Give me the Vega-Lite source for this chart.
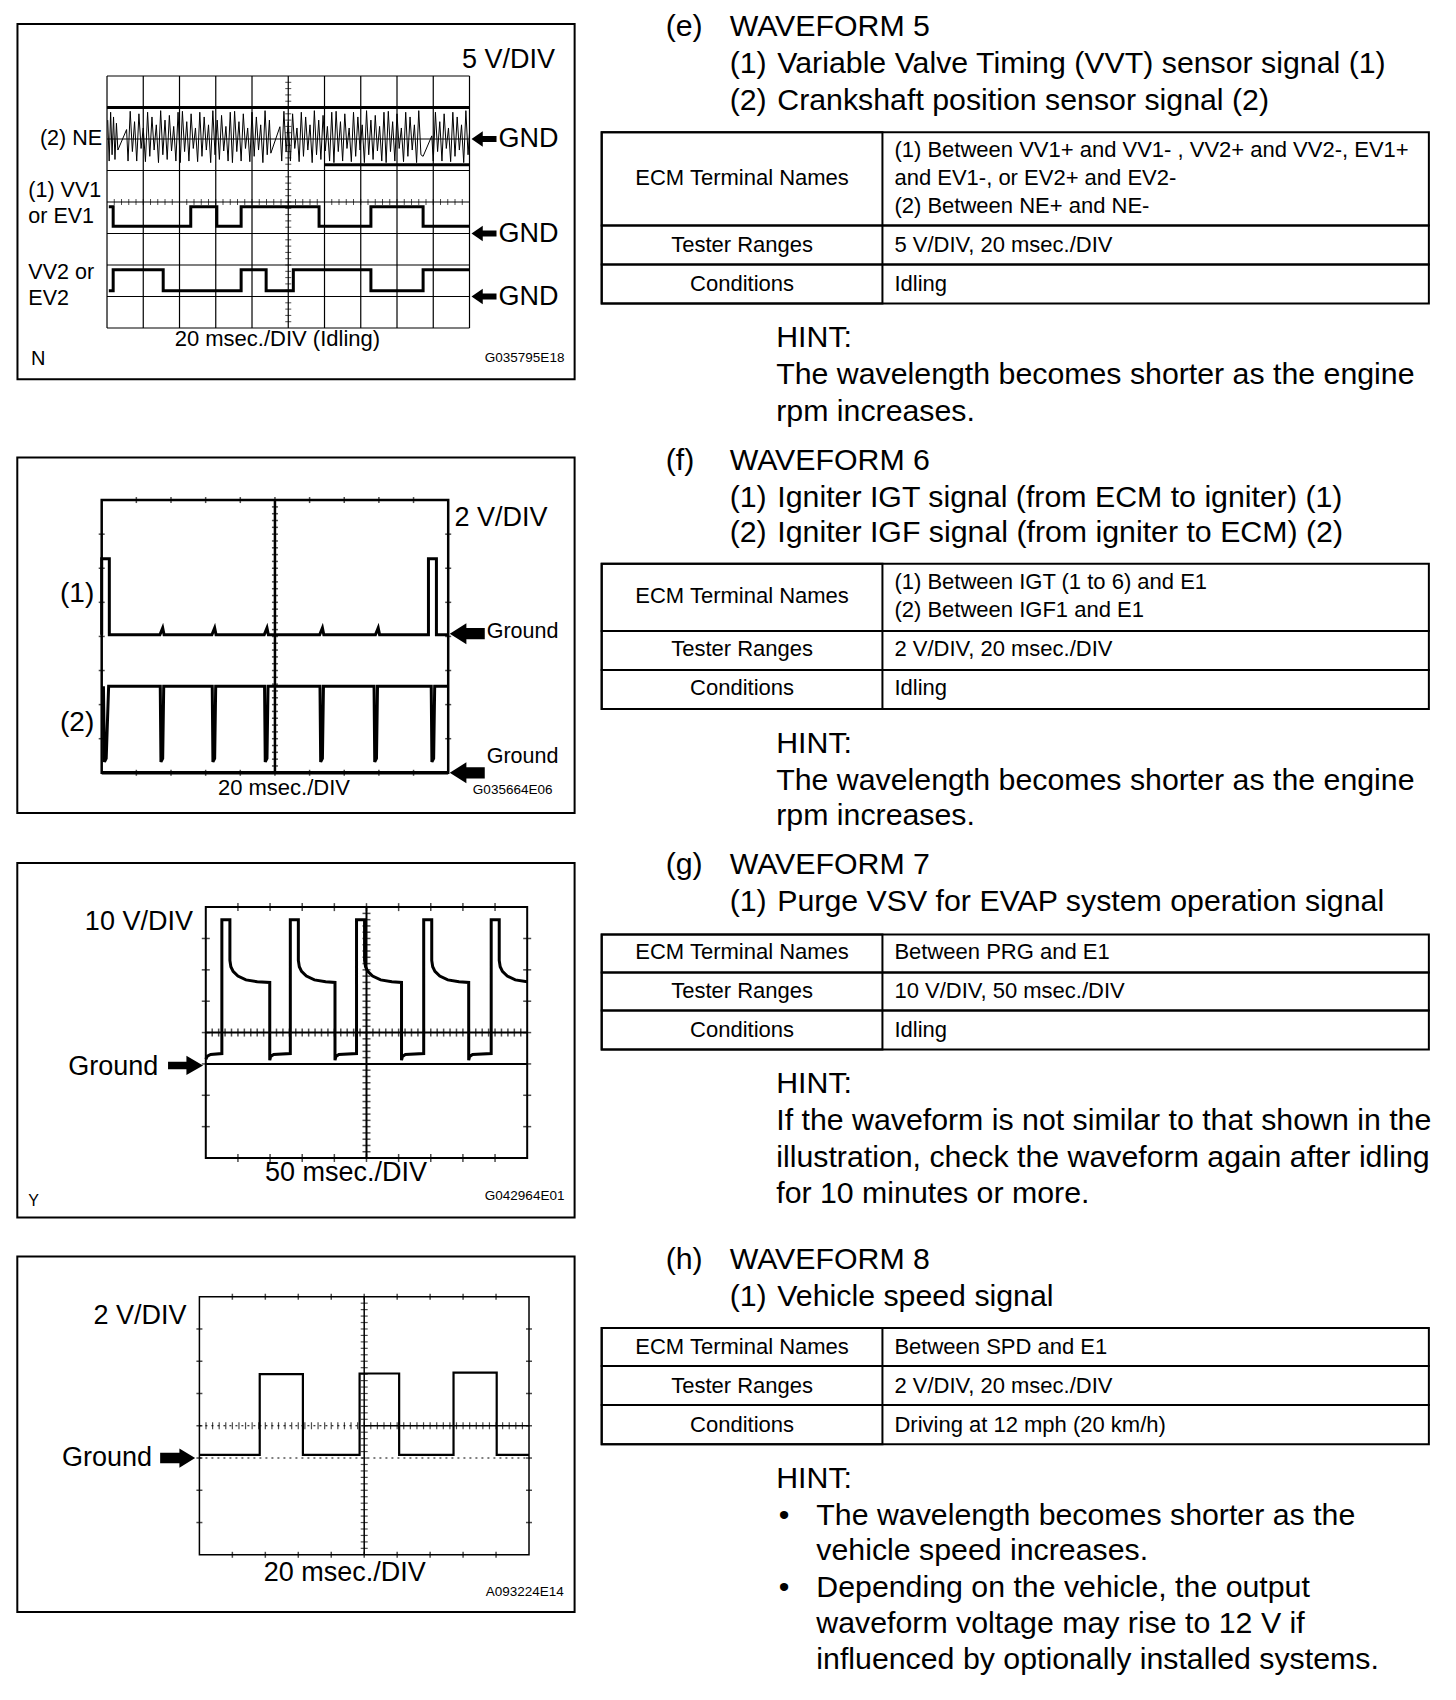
{
"$schema":"https://vega.github.io/schema/vega-lite/v6.json",
"width":1456,"height":1700,
"autosize":{"type":"fit","contains":"padding"},
"padding":0,
"background":"white",
"config":{"view":{"stroke":null},"font":"Liberation Sans","mark":{"color":"black"},"text":{"font":"Liberation Sans","color":"black"}},
"datasets":{
"hticks":[{"t":0.2,"v":4},{"t":0.4,"v":4},{"t":0.6,"v":4},{"t":0.8,"v":4},{"t":1,"v":4},{"t":1.2,"v":4},{"t":1.4,"v":4},{"t":1.6,"v":4},{"t":1.8,"v":4},{"t":2,"v":4},{"t":2.2,"v":4},{"t":2.4,"v":4},{"t":2.6,"v":4},{"t":2.8,"v":4},{"t":3,"v":4},{"t":3.2,"v":4},{"t":3.4,"v":4},{"t":3.6,"v":4},{"t":3.8,"v":4},{"t":4,"v":4},{"t":4.2,"v":4},{"t":4.4,"v":4},{"t":4.6,"v":4},{"t":4.8,"v":4},{"t":5,"v":4},{"t":5.2,"v":4},{"t":5.4,"v":4},{"t":5.6,"v":4},{"t":5.8,"v":4},{"t":6,"v":4},{"t":6.2,"v":4},{"t":6.4,"v":4},{"t":6.6,"v":4},{"t":6.8,"v":4},{"t":7,"v":4},{"t":7.2,"v":4},{"t":7.4,"v":4},{"t":7.6,"v":4},{"t":7.8,"v":4},{"t":8,"v":4},{"t":8.2,"v":4},{"t":8.4,"v":4},{"t":8.6,"v":4},{"t":8.8,"v":4},{"t":9,"v":4},{"t":9.2,"v":4},{"t":9.4,"v":4},{"t":9.6,"v":4},{"t":9.8,"v":4}],
"vticks":[{"t":5,"v":0.2},{"t":5,"v":0.4},{"t":5,"v":0.6},{"t":5,"v":0.8},{"t":5,"v":1},{"t":5,"v":1.2},{"t":5,"v":1.4},{"t":5,"v":1.6},{"t":5,"v":1.8},{"t":5,"v":2},{"t":5,"v":2.2},{"t":5,"v":2.4},{"t":5,"v":2.6},{"t":5,"v":2.8},{"t":5,"v":3},{"t":5,"v":3.2},{"t":5,"v":3.4},{"t":5,"v":3.6},{"t":5,"v":3.8},{"t":5,"v":4},{"t":5,"v":4.2},{"t":5,"v":4.4},{"t":5,"v":4.6},{"t":5,"v":4.8},{"t":5,"v":5},{"t":5,"v":5.2},{"t":5,"v":5.4},{"t":5,"v":5.6},{"t":5,"v":5.8},{"t":5,"v":6},{"t":5,"v":6.2},{"t":5,"v":6.4},{"t":5,"v":6.6},{"t":5,"v":6.8},{"t":5,"v":7},{"t":5,"v":7.2},{"t":5,"v":7.4},{"t":5,"v":7.6},{"t":5,"v":7.8}],
"edgeH":[{"t":1,"v":0},{"t":2,"v":0},{"t":3,"v":0},{"t":4,"v":0},{"t":5,"v":0},{"t":6,"v":0},{"t":7,"v":0},{"t":8,"v":0},{"t":9,"v":0},{"t":1,"v":8},{"t":2,"v":8},{"t":3,"v":8},{"t":4,"v":8},{"t":5,"v":8},{"t":6,"v":8},{"t":7,"v":8},{"t":8,"v":8},{"t":9,"v":8}],
"edgeV":[{"t":0,"v":1},{"t":0,"v":2},{"t":0,"v":3},{"t":0,"v":4},{"t":0,"v":5},{"t":0,"v":6},{"t":0,"v":7},{"t":10,"v":1},{"t":10,"v":2},{"t":10,"v":3},{"t":10,"v":4},{"t":10,"v":5},{"t":10,"v":6},{"t":10,"v":7}],
"gridbox":[{"t":0,"v":0,"t2":10,"v2":8}],
"p1frame":[{"t":-2.47,"v":-1.63,"t2":12.9,"v2":9.65}],
"p1grid":[{"t":0,"v":0,"t2":0,"v2":8},{"t":1,"v":0,"t2":1,"v2":8},{"t":2,"v":0,"t2":2,"v2":8},{"t":3,"v":0,"t2":3,"v2":8},{"t":4,"v":0,"t2":4,"v2":8},{"t":5,"v":0,"t2":5,"v2":8},{"t":6,"v":0,"t2":6,"v2":8},{"t":7,"v":0,"t2":7,"v2":8},{"t":8,"v":0,"t2":8,"v2":8},{"t":9,"v":0,"t2":9,"v2":8},{"t":10,"v":0,"t2":10,"v2":8},{"t":0,"v":0,"t2":10,"v2":0},{"t":0,"v":1,"t2":10,"v2":1},{"t":0,"v":2,"t2":10,"v2":2},{"t":0,"v":3,"t2":10,"v2":3},{"t":0,"v":4,"t2":10,"v2":4},{"t":0,"v":5,"t2":10,"v2":5},{"t":0,"v":6,"t2":10,"v2":6},{"t":0,"v":7,"t2":10,"v2":7},{"t":0,"v":8,"t2":10,"v2":8}],
"p1thick":[{"t":0,"v":7,"t2":10,"v2":7},{"t":6,"v":5.18,"t2":10,"v2":5.18}],
"p1ne":[{"t":0.02,"v":6.6},{"t":0.06,"v":5.3},{"t":0.1,"v":6.85},{"t":0.14,"v":5.5},{"t":0.18,"v":6.7},{"t":0.22,"v":5.35},{"t":0.26,"v":6.5},{"t":0.3,"v":5.65},{"t":0.54,"v":6.3},
{"t":0.58,"v":5.3},{"t":0.64,"v":6.88},{"t":0.7,"v":5.6},{"t":0.76,"v":6.55},{"t":0.82,"v":5.3},{"t":0.88,"v":6.8},{"t":0.94,"v":5.7},{"t":1.0,"v":6.35},{"t":1.06,"v":5.28},{"t":1.12,"v":6.85},{"t":1.18,"v":5.45},{"t":1.24,"v":6.7},{"t":1.3,"v":5.65},{"t":1.36,"v":6.45},{"t":1.42,"v":5.25},{"t":1.48,"v":6.9},{"t":1.54,"v":5.5},{"t":1.6,"v":6.6},{"t":1.66,"v":5.35},{"t":1.72,"v":6.75},{"t":1.78,"v":5.62},{"t":1.84,"v":6.4},{"t":1.9,"v":5.3},{"t":1.96,"v":6.85},{"t":2.02,"v":5.25},{"t":2.08,"v":6.88},{"t":2.14,"v":5.6},{"t":2.2,"v":6.55},{"t":2.26,"v":5.3},{"t":2.32,"v":6.8},{"t":2.38,"v":5.7},{"t":2.44,"v":6.35},{"t":2.5,"v":5.28},{"t":2.56,"v":6.85},{"t":2.62,"v":5.45},{"t":2.68,"v":6.7},{"t":2.74,"v":5.65},{"t":2.8,"v":6.45},{"t":2.86,"v":5.25},{"t":2.92,"v":6.9},{"t":2.98,"v":5.5},{"t":3.04,"v":6.6},{"t":3.1,"v":5.35},{"t":3.16,"v":6.75},{"t":3.22,"v":5.62},{"t":3.28,"v":6.4},{"t":3.34,"v":5.3},{"t":3.4,"v":6.85},{"t":3.46,"v":5.25},{"t":3.52,"v":6.88},{"t":3.58,"v":5.6},{"t":3.64,"v":6.55},{"t":3.7,"v":5.3},{"t":3.76,"v":6.8},{"t":3.82,"v":5.7},{"t":3.88,"v":6.35},{"t":3.94,"v":5.28},{"t":4.0,"v":6.85},{"t":4.06,"v":5.45},{"t":4.12,"v":6.7},{"t":4.18,"v":5.65},{"t":4.24,"v":6.45},{"t":4.3,"v":5.25},{"t":4.36,"v":6.9},{"t":4.42,"v":5.5},{"t":4.48,"v":6.6},{"t":4.52,"v":5.55},{"t":4.77,"v":6.39},
{"t":4.82,"v":5.3},{"t":4.88,"v":6.88},{"t":4.94,"v":5.6},{"t":5.0,"v":6.55},{"t":5.06,"v":5.3},{"t":5.12,"v":6.8},{"t":5.18,"v":5.7},{"t":5.24,"v":6.35},{"t":5.3,"v":5.28},{"t":5.36,"v":6.85},{"t":5.42,"v":5.45},{"t":5.48,"v":6.7},{"t":5.54,"v":5.65},{"t":5.6,"v":6.45},{"t":5.66,"v":5.25},{"t":5.72,"v":6.9},{"t":5.78,"v":5.5},{"t":5.84,"v":6.6},{"t":5.9,"v":5.35},{"t":5.96,"v":6.75},{"t":6.02,"v":5.62},{"t":6.08,"v":6.4},{"t":6.14,"v":5.3},{"t":6.2,"v":6.85},{"t":6.26,"v":5.25},{"t":6.32,"v":6.88},{"t":6.38,"v":5.6},{"t":6.44,"v":6.55},{"t":6.5,"v":5.3},{"t":6.56,"v":6.8},{"t":6.62,"v":5.7},{"t":6.68,"v":6.35},{"t":6.74,"v":5.28},{"t":6.8,"v":6.85},{"t":6.86,"v":5.45},{"t":6.92,"v":6.7},{"t":6.98,"v":5.65},{"t":7.04,"v":6.45},{"t":7.1,"v":5.25},{"t":7.16,"v":6.9},{"t":7.22,"v":5.5},{"t":7.28,"v":6.6},{"t":7.34,"v":5.35},{"t":7.4,"v":6.75},{"t":7.46,"v":5.62},{"t":7.52,"v":6.4},{"t":7.58,"v":5.3},{"t":7.64,"v":6.85},{"t":7.7,"v":5.25},{"t":7.76,"v":6.88},{"t":7.82,"v":5.6},{"t":7.88,"v":6.55},{"t":7.94,"v":5.3},{"t":8.0,"v":6.8},{"t":8.06,"v":5.7},{"t":8.12,"v":6.35},{"t":8.18,"v":5.28},{"t":8.24,"v":6.85},{"t":8.3,"v":5.45},{"t":8.36,"v":6.7},{"t":8.42,"v":5.65},{"t":8.48,"v":6.45},{"t":8.54,"v":5.25},{"t":8.6,"v":6.9},{"t":8.66,"v":5.5},{"t":8.72,"v":5.45},{"t":8.96,"v":6.1},
{"t":9.0,"v":5.3},{"t":9.06,"v":6.85},{"t":9.12,"v":5.6},{"t":9.18,"v":6.55},{"t":9.24,"v":5.3},{"t":9.3,"v":6.8},{"t":9.36,"v":5.7},{"t":9.42,"v":6.35},{"t":9.48,"v":5.28},{"t":9.54,"v":6.85},{"t":9.6,"v":5.45},{"t":9.66,"v":6.7},{"t":9.72,"v":5.65},{"t":9.78,"v":6.45},{"t":9.84,"v":5.25},{"t":9.9,"v":6.9},{"t":9.96,"v":5.5},{"t":10,"v":6.2}],
"p1vv":[{"sig":"VV1","t":0.05,"v":3.85},{"sig":"VV1","t":0.17,"v":3.85},{"sig":"VV1","t":0.17,"v":3.23},{"sig":"VV1","t":2.31,"v":3.23},{"sig":"VV1","t":2.31,"v":3.85},{"sig":"VV1","t":3.03,"v":3.85},{"sig":"VV1","t":3.03,"v":3.23},{"sig":"VV1","t":3.7,"v":3.23},{"sig":"VV1","t":3.7,"v":3.85},{"sig":"VV1","t":5.85,"v":3.85},{"sig":"VV1","t":5.85,"v":3.23},{"sig":"VV1","t":7.28,"v":3.23},{"sig":"VV1","t":7.28,"v":3.85},{"sig":"VV1","t":8.72,"v":3.85},{"sig":"VV1","t":8.72,"v":3.23},{"sig":"VV1","t":10,"v":3.23},
{"sig":"VV2","t":0.05,"v":1.18},{"sig":"VV2","t":0.17,"v":1.18},{"sig":"VV2","t":0.17,"v":1.85},{"sig":"VV2","t":1.55,"v":1.85},{"sig":"VV2","t":1.55,"v":1.18},{"sig":"VV2","t":3.7,"v":1.18},{"sig":"VV2","t":3.7,"v":1.85},{"sig":"VV2","t":4.39,"v":1.85},{"sig":"VV2","t":4.39,"v":1.18},{"sig":"VV2","t":5.14,"v":1.18},{"sig":"VV2","t":5.14,"v":1.85},{"sig":"VV2","t":7.28,"v":1.85},{"sig":"VV2","t":7.28,"v":1.18},{"sig":"VV2","t":8.72,"v":1.18},{"sig":"VV2","t":8.72,"v":1.85},{"sig":"VV2","t":10,"v":1.85}],
"p1arrow":[{"t":10.4,"v":6},{"t":10.4,"v":3},{"t":10.4,"v":1}],
"p1text":[{"role":"scale","t":12.36,"v":8.52,"txt":"5 V/DIV"},{"role":"gnd","t":10.8,"v":6,"txt":"GND"},{"role":"gnd","t":10.8,"v":3,"txt":"GND"},{"role":"gnd","t":10.8,"v":1,"txt":"GND"},{"role":"sig","t":-1.85,"v":6,"txt":"(2) NE"},{"role":"sig","t":-2.17,"v":4.36,"txt":"(1) VV1"},{"role":"sig","t":-2.17,"v":3.53,"txt":"or EV1"},{"role":"sig","t":-2.17,"v":1.74,"txt":"VV2 or"},{"role":"sig","t":-2.17,"v":0.91,"txt":"EV2"},{"role":"time","t":4.7,"v":-0.36,"txt":"20 msec./DIV (Idling)"},{"role":"id","t":11.52,"v":-0.95,"txt":"G035795E18"},{"role":"corner","t":-1.9,"v":-0.98,"txt":"N"}],
"p2frame":[{"t":-2.436,"v":-1.182,"t2":13.648,"v2":9.249}],
"p2lines":[{"t":5,"v":0,"t2":5,"v2":8}],
"p2base":[{"t":0,"v":0,"t2":10,"v2":0}],
"p2sig":[{"sig":"IGT","t":0,"v":4.05},{"sig":"IGT","t":0,"v":6.28},{"sig":"IGT","t":0.22,"v":6.28},{"sig":"IGT","t":0.22,"v":4.05},{"sig":"IGT","t":1.68,"v":4.05},{"sig":"IGT","t":1.76,"v":4.25},{"sig":"IGT","t":1.8,"v":4.05},{"sig":"IGT","t":3.18,"v":4.05},{"sig":"IGT","t":3.26,"v":4.25},{"sig":"IGT","t":3.3,"v":4.05},{"sig":"IGT","t":4.69,"v":4.05},{"sig":"IGT","t":4.77,"v":4.25},{"sig":"IGT","t":4.81,"v":4.05},{"sig":"IGT","t":6.29,"v":4.05},{"sig":"IGT","t":6.37,"v":4.25},{"sig":"IGT","t":6.41,"v":4.05},{"sig":"IGT","t":7.9,"v":4.05},{"sig":"IGT","t":7.98,"v":4.25},{"sig":"IGT","t":8.02,"v":4.05},{"sig":"IGT","t":9.43,"v":4.05},{"sig":"IGT","t":9.43,"v":6.28},{"sig":"IGT","t":9.66,"v":6.28},{"sig":"IGT","t":9.66,"v":4.05},{"sig":"IGT","t":10,"v":4.05},
{"sig":"IGF","t":0.05,"v":2.54},{"sig":"IGF","t":0.08,"v":0.32},{"sig":"IGF","t":0.13,"v":0.42},{"sig":"IGF","t":0.2,"v":2.54},{"sig":"IGF","t":1.69,"v":2.54},{"sig":"IGF","t":1.71,"v":0.32},{"sig":"IGF","t":1.76,"v":0.42},{"sig":"IGF","t":1.79,"v":2.54},{"sig":"IGF","t":3.19,"v":2.54},{"sig":"IGF","t":3.21,"v":0.32},{"sig":"IGF","t":3.26,"v":0.42},{"sig":"IGF","t":3.29,"v":2.54},{"sig":"IGF","t":4.7,"v":2.54},{"sig":"IGF","t":4.72,"v":0.32},{"sig":"IGF","t":4.77,"v":0.42},{"sig":"IGF","t":4.8,"v":2.54},{"sig":"IGF","t":6.3,"v":2.54},{"sig":"IGF","t":6.32,"v":0.32},{"sig":"IGF","t":6.37,"v":0.42},{"sig":"IGF","t":6.4,"v":2.54},{"sig":"IGF","t":7.86,"v":2.54},{"sig":"IGF","t":7.88,"v":0.32},{"sig":"IGF","t":7.93,"v":0.42},{"sig":"IGF","t":7.96,"v":2.54},{"sig":"IGF","t":9.51,"v":2.54},{"sig":"IGF","t":9.53,"v":0.32},{"sig":"IGF","t":9.58,"v":0.42},{"sig":"IGF","t":9.61,"v":2.54},{"sig":"IGF","t":10,"v":2.54}],
"p2arrow":[{"t":10.55,"v":4.08},{"t":10.55,"v":0}],
"p2text":[{"role":"scale","t":10.18,"v":7.47,"txt":"2 V/DIV"},{"role":"sig","t":-0.71,"v":5.24,"txt":"(1)"},{"role":"sig","t":-0.71,"v":1.46,"txt":"(2)"},{"role":"gnd","t":11.11,"v":4.13,"txt":"Ground"},{"role":"gnd","t":11.11,"v":0.47,"txt":"Ground"},{"role":"time","t":5.26,"v":-0.45,"txt":"20 msec./DIV"},{"role":"id","t":11.86,"v":-0.5,"txt":"G035664E06"}],
"p3frame":[{"t":-5.865,"v":-1.897,"t2":11.475,"v2":9.407}],
"p3lines":[{"t":0,"v":3,"t2":10,"v2":3},{"t":5,"v":0,"t2":5,"v2":8},{"t":0,"v":4,"t2":10,"v2":4}],
"p3sig":[{"t":0,"v":3.15},{"t":0.05,"v":3.25},{"t":0.15,"v":3.3},
{"t":0.5,"v":3.33},{"t":0.5,"v":7.6},{"t":0.75,"v":7.6},{"t":0.75,"v":6.3},{"t":0.78,"v":6.1},{"t":0.85,"v":5.95},{"t":1.0,"v":5.8},{"t":1.25,"v":5.68},{"t":1.6,"v":5.62},{"t":1.99,"v":5.6},{"t":1.99,"v":3.12},{"t":2.02,"v":3.24},{"t":2.11,"v":3.3},
{"t":2.63,"v":3.33},{"t":2.63,"v":7.6},{"t":2.88,"v":7.6},{"t":2.88,"v":6.3},{"t":2.91,"v":6.1},{"t":2.98,"v":5.95},{"t":3.13,"v":5.8},{"t":3.38,"v":5.68},{"t":3.73,"v":5.62},{"t":4.02,"v":5.6},{"t":4.02,"v":3.12},{"t":4.05,"v":3.24},{"t":4.14,"v":3.3},
{"t":4.69,"v":3.33},{"t":4.69,"v":7.6},{"t":4.94,"v":7.6},{"t":4.94,"v":6.3},{"t":4.97,"v":6.1},{"t":5.04,"v":5.95},{"t":5.19,"v":5.8},{"t":5.44,"v":5.68},{"t":5.79,"v":5.62},{"t":6.09,"v":5.6},{"t":6.09,"v":3.12},{"t":6.12,"v":3.24},{"t":6.21,"v":3.3},
{"t":6.78,"v":3.33},{"t":6.78,"v":7.6},{"t":7.03,"v":7.6},{"t":7.03,"v":6.3},{"t":7.06,"v":6.1},{"t":7.13,"v":5.95},{"t":7.28,"v":5.8},{"t":7.53,"v":5.68},{"t":7.88,"v":5.62},{"t":8.18,"v":5.6},{"t":8.18,"v":3.12},{"t":8.21,"v":3.24},{"t":8.3,"v":3.3},
{"t":8.88,"v":3.33},{"t":8.88,"v":7.6},{"t":9.13,"v":7.6},{"t":9.13,"v":6.3},{"t":9.16,"v":6.1},{"t":9.23,"v":5.95},{"t":9.38,"v":5.8},{"t":9.63,"v":5.68},{"t":10,"v":5.62}],
"p3arrow":[{"t":-0.63,"v":2.95}],
"p3text":[{"role":"scale","t":-0.4,"v":7.54,"txt":"10 V/DIV"},{"role":"gnd","t":-4.28,"v":2.9,"txt":"Ground"},{"role":"time","t":4.36,"v":-0.48,"txt":"50 msec./DIV"},{"role":"id","t":9.92,"v":-1.2,"txt":"G042964E01"},{"role":"corner","t":-5.36,"v":-1.37,"txt":"Y"}],
"p4frame":[{"t":-5.525,"v":-1.776,"t2":11.383,"v2":9.247}],
"p4lines":[{"t":5,"v":0,"t2":5,"v2":8},{"t":5,"v":4,"t2":10,"v2":4}],
"p4dots":[{"t":0,"v":4,"t2":5,"v2":4},{"t":0,"v":3,"t2":10,"v2":3}],
"p4sig":[{"t":0,"v":3.1},{"t":1.83,"v":3.1},{"t":1.83,"v":5.6},{"t":3.14,"v":5.6},{"t":3.14,"v":3.1},{"t":4.86,"v":3.1},{"t":4.86,"v":5.62},{"t":6.06,"v":5.62},{"t":6.06,"v":3.1},{"t":7.71,"v":3.1},{"t":7.71,"v":5.65},{"t":9.02,"v":5.65},{"t":9.02,"v":3.1},{"t":10,"v":3.1}],
"p4arrow":[{"t":-0.66,"v":3.0}],
"p4text":[{"role":"scale","t":-0.39,"v":7.4,"txt":"2 V/DIV"},{"role":"gnd","t":-4.17,"v":3.0,"txt":"Ground"},{"role":"time","t":4.41,"v":-0.56,"txt":"20 msec./DIV"},{"role":"id","t":9.87,"v":-1.14,"txt":"A093224E14"}],
"rcells":[{"col":0,"col2":100,"line":3.588,"line2":6.118},{"col":0,"col2":100,"line":6.118,"line2":7.176},{"col":0,"col2":100,"line":7.176,"line2":8.235},{"col":0,"col2":33.94,"line":3.588,"line2":8.235},
{"col":0,"col2":100,"line":15.294,"line2":17.118},{"col":0,"col2":100,"line":17.118,"line2":18.176},{"col":0,"col2":100,"line":18.176,"line2":19.235},{"col":0,"col2":33.94,"line":15.294,"line2":19.235},
{"col":0,"col2":100,"line":25.353,"line2":26.382},{"col":0,"col2":100,"line":26.382,"line2":27.412},{"col":0,"col2":100,"line":27.412,"line2":28.47},{"col":0,"col2":33.94,"line":25.353,"line2":28.47},
{"col":0,"col2":100,"line":36.03,"line2":37.06},{"col":0,"col2":100,"line":37.06,"line2":38.12},{"col":0,"col2":100,"line":38.12,"line2":39.18},{"col":0,"col2":33.94,"line":36.03,"line2":39.18}],
"rtext":[
{"kind":"head","col":7.73,"line":0.735,"txt":"(e)"},{"kind":"head","col":15.47,"line":0.735,"txt":"WAVEFORM 5"},{"kind":"head","col":15.47,"line":1.735,"txt":"(1)"},{"kind":"head","col":21.23,"line":1.735,"txt":"Variable Valve Timing (VVT) sensor signal (1)"},{"kind":"head","col":15.47,"line":2.735,"txt":"(2)"},{"kind":"head","col":21.23,"line":2.735,"txt":"Crankshaft position sensor signal (2)"},
{"kind":"label","col":16.97,"line":4.824,"txt":"ECM Terminal Names"},{"kind":"cell","col":35.39,"line":4.059,"txt":"(1) Between VV1+ and VV1- , VV2+ and VV2-, EV1+"},{"kind":"cell","col":35.39,"line":4.824,"txt":"and EV1-, or EV2+ and EV2-"},{"kind":"cell","col":35.39,"line":5.588,"txt":"(2) Between NE+ and NE-"},
{"kind":"label","col":16.97,"line":6.647,"txt":"Tester Ranges"},{"kind":"cell","col":35.39,"line":6.647,"txt":"5 V/DIV, 20 msec./DIV"},
{"kind":"label","col":16.97,"line":7.706,"txt":"Conditions"},{"kind":"cell","col":35.39,"line":7.706,"txt":"Idling"},
{"kind":"hint","col":21.1,"line":9.176,"txt":"HINT:"},{"kind":"hint","col":21.1,"line":10.176,"txt":"The wavelength becomes shorter as the engine"},{"kind":"hint","col":21.1,"line":11.176,"txt":"rpm increases."},
{"kind":"head","col":7.73,"line":12.5,"txt":"(f)"},{"kind":"head","col":15.47,"line":12.5,"txt":"WAVEFORM 6"},{"kind":"head","col":15.47,"line":13.5,"txt":"(1)"},{"kind":"head","col":21.23,"line":13.5,"txt":"Igniter IGT signal (from ECM to igniter) (1)"},{"kind":"head","col":15.47,"line":14.47,"txt":"(2)"},{"kind":"head","col":21.23,"line":14.47,"txt":"Igniter IGF signal (from igniter to ECM) (2)"},
{"kind":"label","col":16.97,"line":16.176,"txt":"ECM Terminal Names"},{"kind":"cell","col":35.39,"line":15.794,"txt":"(1) Between IGT (1 to 6) and E1"},{"kind":"cell","col":35.39,"line":16.559,"txt":"(2) Between IGF1 and E1"},
{"kind":"label","col":16.97,"line":17.618,"txt":"Tester Ranges"},{"kind":"cell","col":35.39,"line":17.618,"txt":"2 V/DIV, 20 msec./DIV"},
{"kind":"label","col":16.97,"line":18.676,"txt":"Conditions"},{"kind":"cell","col":35.39,"line":18.676,"txt":"Idling"},
{"kind":"hint","col":21.1,"line":20.176,"txt":"HINT:"},{"kind":"hint","col":21.1,"line":21.176,"txt":"The wavelength becomes shorter as the engine"},{"kind":"hint","col":21.1,"line":22.147,"txt":"rpm increases."},
{"kind":"head","col":7.73,"line":23.47,"txt":"(g)"},{"kind":"head","col":15.47,"line":23.47,"txt":"WAVEFORM 7"},{"kind":"head","col":15.47,"line":24.47,"txt":"(1)"},{"kind":"head","col":21.23,"line":24.47,"txt":"Purge VSV for EVAP system operation signal"},
{"kind":"label","col":16.97,"line":25.82,"txt":"ECM Terminal Names"},{"kind":"cell","col":35.39,"line":25.82,"txt":"Between PRG and E1"},
{"kind":"label","col":16.97,"line":26.88,"txt":"Tester Ranges"},{"kind":"cell","col":35.39,"line":26.88,"txt":"10 V/DIV, 50 msec./DIV"},
{"kind":"label","col":16.97,"line":27.94,"txt":"Conditions"},{"kind":"cell","col":35.39,"line":27.94,"txt":"Idling"},
{"kind":"hint","col":21.1,"line":29.41,"txt":"HINT:"},{"kind":"hint","col":21.1,"line":30.41,"txt":"If the waveform is not similar to that shown in the"},{"kind":"hint","col":21.1,"line":31.41,"txt":"illustration, check the waveform again after idling"},{"kind":"hint","col":21.1,"line":32.38,"txt":"for 10 minutes or more."},
{"kind":"head","col":7.73,"line":34.18,"txt":"(h)"},{"kind":"head","col":15.47,"line":34.18,"txt":"WAVEFORM 8"},{"kind":"head","col":15.47,"line":35.18,"txt":"(1)"},{"kind":"head","col":21.23,"line":35.18,"txt":"Vehicle speed signal"},
{"kind":"label","col":16.97,"line":36.53,"txt":"ECM Terminal Names"},{"kind":"cell","col":35.39,"line":36.53,"txt":"Between SPD and E1"},
{"kind":"label","col":16.97,"line":37.59,"txt":"Tester Ranges"},{"kind":"cell","col":35.39,"line":37.59,"txt":"2 V/DIV, 20 msec./DIV"},
{"kind":"label","col":16.97,"line":38.65,"txt":"Conditions"},{"kind":"cell","col":35.39,"line":38.65,"txt":"Driving at 12 mph (20 km/h)"},
{"kind":"hint","col":21.1,"line":40.12,"txt":"HINT:"},
{"kind":"bullet","col":21.4,"line":41.12,"txt":"•"},{"kind":"hint","col":25.95,"line":41.12,"txt":"The wavelength becomes shorter as the"},{"kind":"hint","col":25.95,"line":42.09,"txt":"vehicle speed increases."},
{"kind":"bullet","col":21.4,"line":43.09,"txt":"•"},{"kind":"hint","col":25.95,"line":43.09,"txt":"Depending on the vehicle, the output"},{"kind":"hint","col":25.95,"line":44.06,"txt":"waveform voltage may rise to 12 V if"},{"kind":"hint","col":25.95,"line":45.03,"txt":"influenced by optionally installed systems."}]
},
"layer":[
{"encoding":{"x":{"field":"t","type":"quantitative","scale":{"domain":[-2.952,37.214],"nice":false,"zero":false},"axis":null},"y":{"field":"v","type":"quantitative","scale":{"domain":[-43.556,10.413],"nice":false,"zero":false},"axis":null}},
"layer":[
{"data":{"name":"p1frame"},"mark":{"type":"rect","filled":false,"stroke":"black","strokeWidth":2},"encoding":{"x2":{"field":"t2"},"y2":{"field":"v2"}}},
{"data":{"name":"p1grid"},"mark":{"type":"rule","strokeWidth":1.2},"encoding":{"x2":{"field":"t2"},"y2":{"field":"v2"}}},
{"data":{"name":"p1thick"},"mark":{"type":"rule","strokeWidth":3},"encoding":{"x2":{"field":"t2"},"y2":{"field":"v2"}}},
{"data":{"name":"hticks"},"mark":{"type":"tick","orient":"vertical","size":6,"thickness":1}},
{"data":{"name":"vticks"},"mark":{"type":"tick","orient":"horizontal","size":6,"thickness":1}},
{"data":{"name":"p1ne"},"mark":{"type":"line","strokeWidth":1},"encoding":{"order":{"value":null}}},
{"data":{"name":"p1vv"},"mark":{"type":"line","strokeWidth":3},"encoding":{"detail":{"field":"sig"},"order":{"value":null}}},
{"data":{"name":"p1arrow"},"mark":{"type":"point","shape":"M-1,0L-0.1,-0.62L-0.1,-0.24L1,-0.24L1,0.24L-0.1,0.24L-0.1,0.62Z","size":625,"filled":true,"opacity":1}},
{"data":{"name":"p1text"},"transform":[{"filter":{"field":"role","equal":"scale"}}],"mark":{"type":"text","align":"right","baseline":"middle","fontSize":27},"encoding":{"text":{"field":"txt"}}},
{"data":{"name":"p1text"},"transform":[{"filter":{"field":"role","equal":"gnd"}}],"mark":{"type":"text","align":"left","baseline":"middle","fontSize":27},"encoding":{"text":{"field":"txt"}}},
{"data":{"name":"p1text"},"transform":[{"filter":{"field":"role","equal":"sig"}}],"mark":{"type":"text","align":"left","baseline":"middle","fontSize":21.5},"encoding":{"text":{"field":"txt"}}},
{"data":{"name":"p1text"},"transform":[{"filter":{"field":"role","equal":"time"}}],"mark":{"type":"text","align":"center","baseline":"middle","fontSize":22},"encoding":{"text":{"field":"txt"}}},
{"data":{"name":"p1text"},"transform":[{"filter":{"field":"role","equal":"id"}}],"mark":{"type":"text","align":"center","baseline":"middle","fontSize":13.5},"encoding":{"text":{"field":"txt"}}},
{"data":{"name":"p1text"},"transform":[{"filter":{"field":"role","equal":"corner"}}],"mark":{"type":"text","align":"center","baseline":"middle","fontSize":20},"encoding":{"text":{"field":"txt"}}}
]},
{"encoding":{"x":{"field":"t","type":"quantitative","scale":{"domain":[-2.935,39.085],"nice":false,"zero":false},"axis":null},"y":{"field":"v","type":"quantitative","scale":{"domain":[-27.199,22.669],"nice":false,"zero":false},"axis":null}},
"layer":[
{"data":{"name":"p2frame"},"mark":{"type":"rect","filled":false,"stroke":"black","strokeWidth":2},"encoding":{"x2":{"field":"t2"},"y2":{"field":"v2"}}},
{"data":{"name":"gridbox"},"mark":{"type":"rect","filled":false,"stroke":"black","strokeWidth":2.5},"encoding":{"x2":{"field":"t2"},"y2":{"field":"v2"}}},
{"data":{"name":"p2lines"},"mark":{"type":"rule","strokeWidth":2.5},"encoding":{"x2":{"field":"t2"},"y2":{"field":"v2"}}},
{"data":{"name":"p2base"},"mark":{"type":"rule","strokeWidth":3.5},"encoding":{"x2":{"field":"t2"},"y2":{"field":"v2"}}},
{"data":{"name":"edgeH"},"mark":{"type":"tick","orient":"vertical","size":6,"thickness":1.5}},
{"data":{"name":"edgeV"},"mark":{"type":"tick","orient":"horizontal","size":6,"thickness":1.5}},
{"data":{"name":"vticks"},"mark":{"type":"tick","orient":"horizontal","size":6,"thickness":1.5}},
{"data":{"name":"p2sig"},"mark":{"type":"line","strokeWidth":3},"encoding":{"detail":{"field":"sig"},"order":{"value":null}}},
{"data":{"name":"p2arrow"},"mark":{"type":"point","shape":"M-1,0L-0.05,-0.6L-0.05,-0.32L1,-0.32L1,0.32L-0.05,0.32L-0.05,0.6Z","size":1225,"filled":true,"opacity":1}},
{"data":{"name":"p2text"},"transform":[{"filter":{"field":"role","equal":"scale"}}],"mark":{"type":"text","align":"left","baseline":"middle","fontSize":27},"encoding":{"text":{"field":"txt"}}},
{"data":{"name":"p2text"},"transform":[{"filter":{"field":"role","equal":"sig"}}],"mark":{"type":"text","align":"center","baseline":"middle","fontSize":28},"encoding":{"text":{"field":"txt"}}},
{"data":{"name":"p2text"},"transform":[{"filter":{"field":"role","equal":"gnd"}}],"mark":{"type":"text","align":"left","baseline":"middle","fontSize":21.5},"encoding":{"text":{"field":"txt"}}},
{"data":{"name":"p2text"},"transform":[{"filter":{"field":"role","equal":"time"}}],"mark":{"type":"text","align":"center","baseline":"middle","fontSize":22},"encoding":{"text":{"field":"txt"}}},
{"data":{"name":"p2text"},"transform":[{"filter":{"field":"role","equal":"id"}}],"mark":{"type":"text","align":"center","baseline":"middle","fontSize":13.5},"encoding":{"text":{"field":"txt"}}}
]},
{"encoding":{"x":{"field":"t","type":"quantitative","scale":{"domain":[-6.403,38.899],"nice":false,"zero":false},"axis":null},"y":{"field":"v","type":"quantitative","scale":{"domain":[-17.283,36.926],"nice":false,"zero":false},"axis":null}},
"layer":[
{"data":{"name":"p3frame"},"mark":{"type":"rect","filled":false,"stroke":"black","strokeWidth":2},"encoding":{"x2":{"field":"t2"},"y2":{"field":"v2"}}},
{"data":{"name":"gridbox"},"mark":{"type":"rect","filled":false,"stroke":"black","strokeWidth":2},"encoding":{"x2":{"field":"t2"},"y2":{"field":"v2"}}},
{"data":{"name":"p3lines"},"mark":{"type":"rule","strokeWidth":2},"encoding":{"x2":{"field":"t2"},"y2":{"field":"v2"}}},
{"data":{"name":"edgeH"},"mark":{"type":"tick","orient":"vertical","size":8,"thickness":1.5}},
{"data":{"name":"edgeV"},"mark":{"type":"tick","orient":"horizontal","size":8,"thickness":1.5}},
{"data":{"name":"hticks"},"mark":{"type":"tick","orient":"vertical","size":8,"thickness":1.5}},
{"data":{"name":"vticks"},"mark":{"type":"tick","orient":"horizontal","size":8,"thickness":1.5}},
{"data":{"name":"p3sig"},"mark":{"type":"line","strokeWidth":3},"encoding":{"order":{"value":null}}},
{"data":{"name":"p3arrow"},"mark":{"type":"point","shape":"M1,0L0.05,-0.55L0.05,-0.22L-1,-0.22L-1,0.22L0.05,0.22L0.05,0.55Z","size":1225,"filled":true,"opacity":1}},
{"data":{"name":"p3text"},"transform":[{"filter":{"field":"role","equal":"scale"}}],"mark":{"type":"text","align":"right","baseline":"middle","fontSize":27},"encoding":{"text":{"field":"txt"}}},
{"data":{"name":"p3text"},"transform":[{"filter":{"field":"role","equal":"gnd"}}],"mark":{"type":"text","align":"left","baseline":"middle","fontSize":27},"encoding":{"text":{"field":"txt"}}},
{"data":{"name":"p3text"},"transform":[{"filter":{"field":"role","equal":"time"}}],"mark":{"type":"text","align":"center","baseline":"middle","fontSize":27},"encoding":{"text":{"field":"txt"}}},
{"data":{"name":"p3text"},"transform":[{"filter":{"field":"role","equal":"id"}}],"mark":{"type":"text","align":"center","baseline":"middle","fontSize":13.5},"encoding":{"text":{"field":"txt"}}},
{"data":{"name":"p3text"},"transform":[{"filter":{"field":"role","equal":"corner"}}],"mark":{"type":"text","align":"center","baseline":"middle","fontSize":16},"encoding":{"text":{"field":"txt"}}}
]},
{"encoding":{"x":{"field":"t","type":"quantitative","scale":{"domain":[-6.05,38.125],"nice":false,"zero":false},"axis":null},"y":{"field":"v","type":"quantitative","scale":{"domain":[-4.501,48.196],"nice":false,"zero":false},"axis":null}},
"layer":[
{"data":{"name":"p4frame"},"mark":{"type":"rect","filled":false,"stroke":"black","strokeWidth":2},"encoding":{"x2":{"field":"t2"},"y2":{"field":"v2"}}},
{"data":{"name":"gridbox"},"mark":{"type":"rect","filled":false,"stroke":"black","strokeWidth":1.5},"encoding":{"x2":{"field":"t2"},"y2":{"field":"v2"}}},
{"data":{"name":"p4lines"},"mark":{"type":"rule","strokeWidth":1.5},"encoding":{"x2":{"field":"t2"},"y2":{"field":"v2"}}},
{"data":{"name":"p4dots"},"mark":{"type":"rule","strokeWidth":1.2,"strokeDash":[2,4]},"encoding":{"x2":{"field":"t2"},"y2":{"field":"v2"}}},
{"data":{"name":"edgeH"},"mark":{"type":"tick","orient":"vertical","size":6,"thickness":1.5}},
{"data":{"name":"edgeV"},"mark":{"type":"tick","orient":"horizontal","size":6,"thickness":1.5}},
{"data":{"name":"hticks"},"mark":{"type":"tick","orient":"vertical","size":7,"thickness":1.2}},
{"data":{"name":"vticks"},"mark":{"type":"tick","orient":"horizontal","size":7,"thickness":1.2}},
{"data":{"name":"p4sig"},"mark":{"type":"line","strokeWidth":2.2},"encoding":{"order":{"value":null}}},
{"data":{"name":"p4arrow"},"mark":{"type":"point","shape":"M1,0L0.1,-0.55L0.1,-0.3L-1,-0.3L-1,0.3L0.1,0.3L0.1,0.55Z","size":1225,"filled":true,"opacity":1}},
{"data":{"name":"p4text"},"transform":[{"filter":{"field":"role","equal":"scale"}}],"mark":{"type":"text","align":"right","baseline":"middle","fontSize":27},"encoding":{"text":{"field":"txt"}}},
{"data":{"name":"p4text"},"transform":[{"filter":{"field":"role","equal":"gnd"}}],"mark":{"type":"text","align":"left","baseline":"middle","fontSize":27},"encoding":{"text":{"field":"txt"}}},
{"data":{"name":"p4text"},"transform":[{"filter":{"field":"role","equal":"time"}}],"mark":{"type":"text","align":"center","baseline":"middle","fontSize":27},"encoding":{"text":{"field":"txt"}}},
{"data":{"name":"p4text"},"transform":[{"filter":{"field":"role","equal":"id"}}],"mark":{"type":"text","align":"center","baseline":"middle","fontSize":13.5},"encoding":{"text":{"field":"txt"}}}
]},
{"encoding":{"x":{"field":"col","type":"quantitative","scale":{"domain":[-72.74,103.28],"nice":false,"zero":false},"axis":null},"y":{"field":"line","type":"quantitative","scale":{"domain":[0,46.12],"reverse":true,"nice":false,"zero":false},"axis":null}},
"layer":[
{"data":{"name":"rcells"},"mark":{"type":"rect","filled":false,"stroke":"black","strokeWidth":2},"encoding":{"x2":{"field":"col2"},"y2":{"field":"line2"}}},
{"data":{"name":"rtext"},"transform":[{"filter":{"field":"kind","oneOf":["head","hint","bullet"]}}],"mark":{"type":"text","align":"left","baseline":"middle","fontSize":30.3},"encoding":{"text":{"field":"txt"}}},
{"data":{"name":"rtext"},"transform":[{"filter":{"field":"kind","equal":"cell"}}],"mark":{"type":"text","align":"left","baseline":"middle","fontSize":22},"encoding":{"text":{"field":"txt"}}},
{"data":{"name":"rtext"},"transform":[{"filter":{"field":"kind","equal":"label"}}],"mark":{"type":"text","align":"center","baseline":"middle","fontSize":22},"encoding":{"text":{"field":"txt"}}}
]}
],
"resolve":{"scale":{"x":"independent","y":"independent"}}
}
